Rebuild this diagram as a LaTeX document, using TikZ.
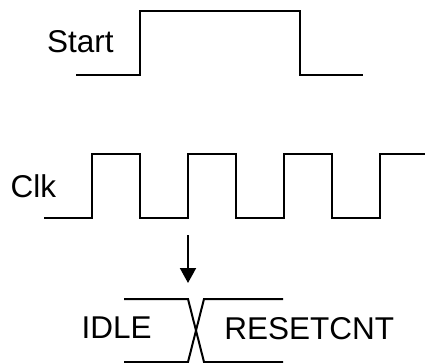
\documentclass[tikz,border=0pt]{standalone}
\usepackage{fontspec}
\setmainfont{Liberation Sans}
\usetikzlibrary{arrows.meta}
\begin{document}
\begin{tikzpicture}[x=1pt,y=-1pt,
  wave/.style={line width=2pt,line join=miter},
  lbl/.style={inner sep=0pt,anchor=base west,font=\fontsize{31.5}{31.5}\selectfont}]
\useasboundingbox (0,0) rectangle (425,363);
% Start
\node[lbl] (start) at (46.8,52.2) {Start};
\draw[wave] (76,75) -- (140,75) -- (140,11) -- (300,11) -- (300,75) -- (363,75);
% Clk
\node[lbl] (clk) at (10.5,197) {Clk};
\draw[wave] (44,218) -- (92,218) -- (92,154) -- (140,154) -- (140,218) -- (188,218)
  -- (188,154) -- (236,154) -- (236,218) -- (284,218) -- (284,154) -- (332,154)
  -- (332,218) -- (380,218) -- (380,154) -- (425,154);
% arrow
\coordinate (atop) at (188,235);
\coordinate (atip) at (188,283);
\draw[line width=2pt,-{Triangle[width=16pt,length=15pt]}] (atop) -- (atip);
% bus
\draw[wave] (124,299) -- (188,299) -- (204,362) -- (283,362);
\draw[wave] (124,362) -- (188,362) -- (204,299) -- (283,299);
\node[lbl] (idle) at (81.5,338.7) {IDLE};
\node[lbl] (reset) at (224.2,339) {RESETCNT};
\end{tikzpicture}
\end{document}
